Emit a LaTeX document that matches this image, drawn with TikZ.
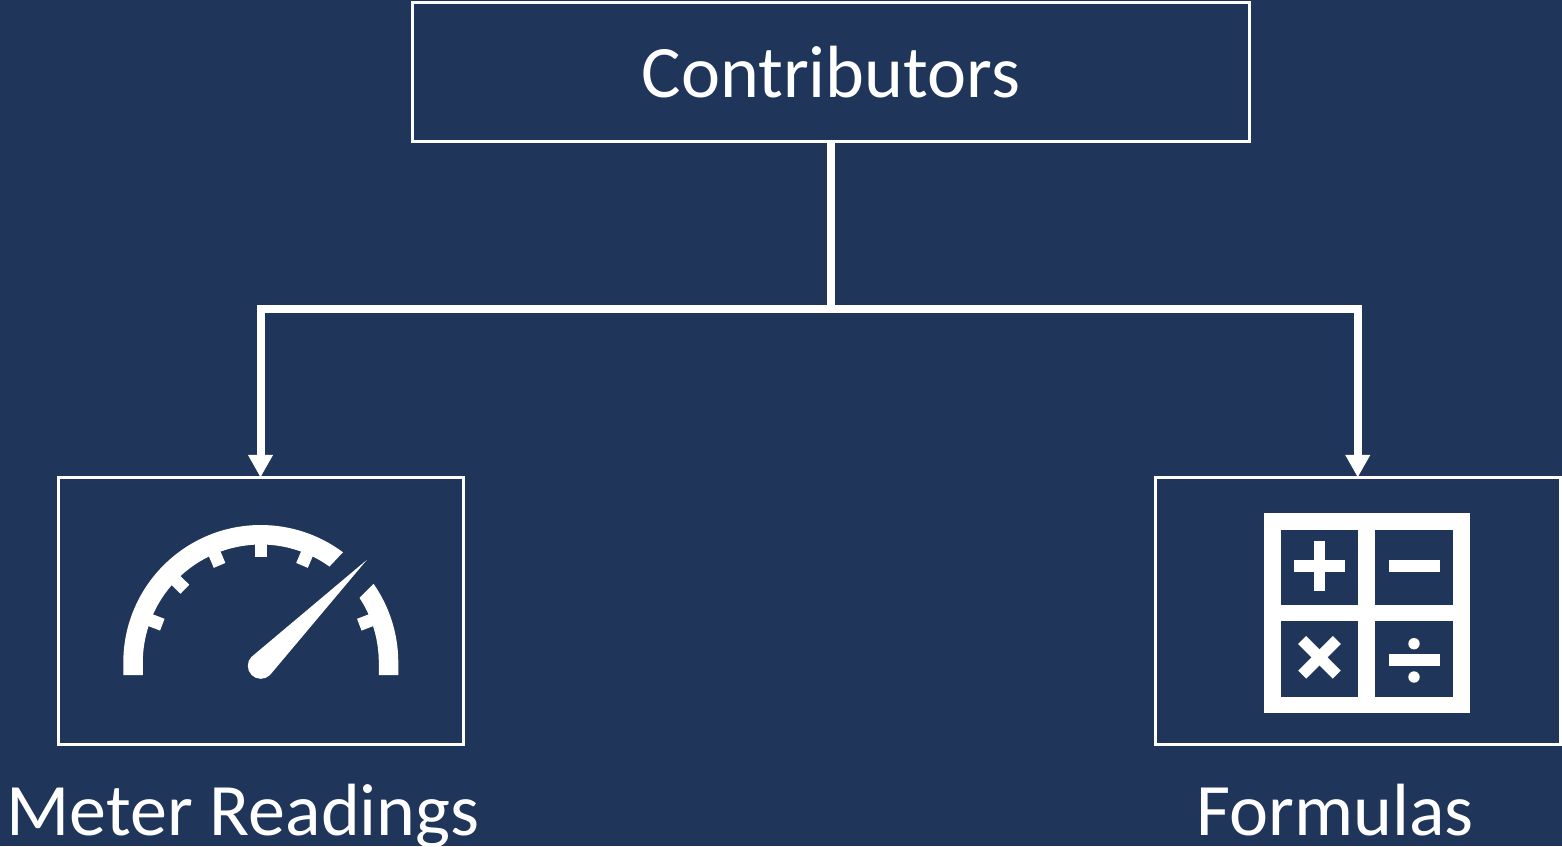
\documentclass[tikz,border=0pt]{standalone}
\usepackage{fontspec}
\setmainfont{Carlito}
\usetikzlibrary{arrows.meta}
\definecolor{navy}{HTML}{1F3559}
\begin{document}
\begin{tikzpicture}[x=0.5pt,y=-0.5pt,
    box/.style={draw=white,line width=1.5pt,inner sep=0pt,outer sep=0pt},
    label/.style={text=white,font=\fontsize{37pt}{42pt}\selectfont,inner sep=0pt,anchor=base},
    flow/.style={draw=white,line width=4pt},
    gaugetick/.style={draw=white,line width=6.3pt}]
    \fill[navy] (0,0) rectangle (1562,846);
    \useasboundingbox (0,0) rectangle (1562,846);
    \node[box,minimum width=418.5pt,minimum height=69.5pt,text=white,
      font=\fontsize{37pt}{42pt}\selectfont] (contrib) at (831,72) {Contributors};
    \node[box,minimum width=202.5pt,minimum height=133.5pt] (meter) at (260.5,611) {};
    \node[box,minimum width=202.5pt,minimum height=133.5pt] (formula) at (1357.75,611) {};
    \node[label] (meterlabel) at (243,835.5) {Meter Readings};
    \node[label] (formulalabel) at (1335,835.5) {Formulas};
    \coordinate (bus) at (831,309);
    \draw[flow] (contrib.south) -- (bus);
    \draw[flow,-{Triangle[width=11.7pt,length=11.3pt]}] (bus) -| (meter.north);
    \draw[flow,-{Triangle[width=11.7pt,length=11.3pt]}] (bus) -| (formula.north);
    % gauge icon
    \begin{scope}[shift={(260.8,662.5)},x=0.5pt,y=0.5pt]
      \fill[white] (-137.5,-12.5) -- (-137.5,0) arc (180:53.3:137.5) -- (54.4:118)
        arc (54.4:180:118) -- (-118,-12.5) -- cycle;
      \fill[white] (137.5,-12.5) -- (137.5,0) arc (0:34.9:137.5) -- (33.2:118)
        arc (33.2:0:118) -- (118,-12.5) -- cycle;
      \foreach \a in {21,67,90,113,136,159}
        \draw[gaugetick] (\a:120) -- (\a:105.5);
      \fill[white] (-9.1,5.8) -- (105.9,102.5) -- (9.2,-12.5) arc (-45:-225:13) -- cycle;
    \end{scope}
    % calculator icon
    \fill[white] (1264,513.3) rectangle (1469.7,713.3);
    \fill[navy] (1280.7,529.7) rectangle (1358.3,604.7);
    \fill[navy] (1375,529.7) rectangle (1453,604.7);
    \fill[navy] (1280.7,621.3) rectangle (1358.3,696.7);
    \fill[navy] (1375,621.3) rectangle (1453,696.7);
    \fill[white] (1294.3,560.4) rectangle (1344.7,571.6);
    \fill[white] (1313.9,541) rectangle (1325.1,591);
    \fill[white] (1389,560) rectangle (1440,572);
    \draw[white,line width=5.65pt] (1302.2,640) -- (1336.8,674.6);
    \draw[white,line width=5.65pt] (1336.8,640) -- (1302.2,674.6);
    \fill[white] (1389,654) rectangle (1440,666);
    \fill[white] (1414,643.7) circle[radius=5.7];
    \fill[white] (1414,677) circle[radius=5.7];
  \end{tikzpicture}
\end{document}
